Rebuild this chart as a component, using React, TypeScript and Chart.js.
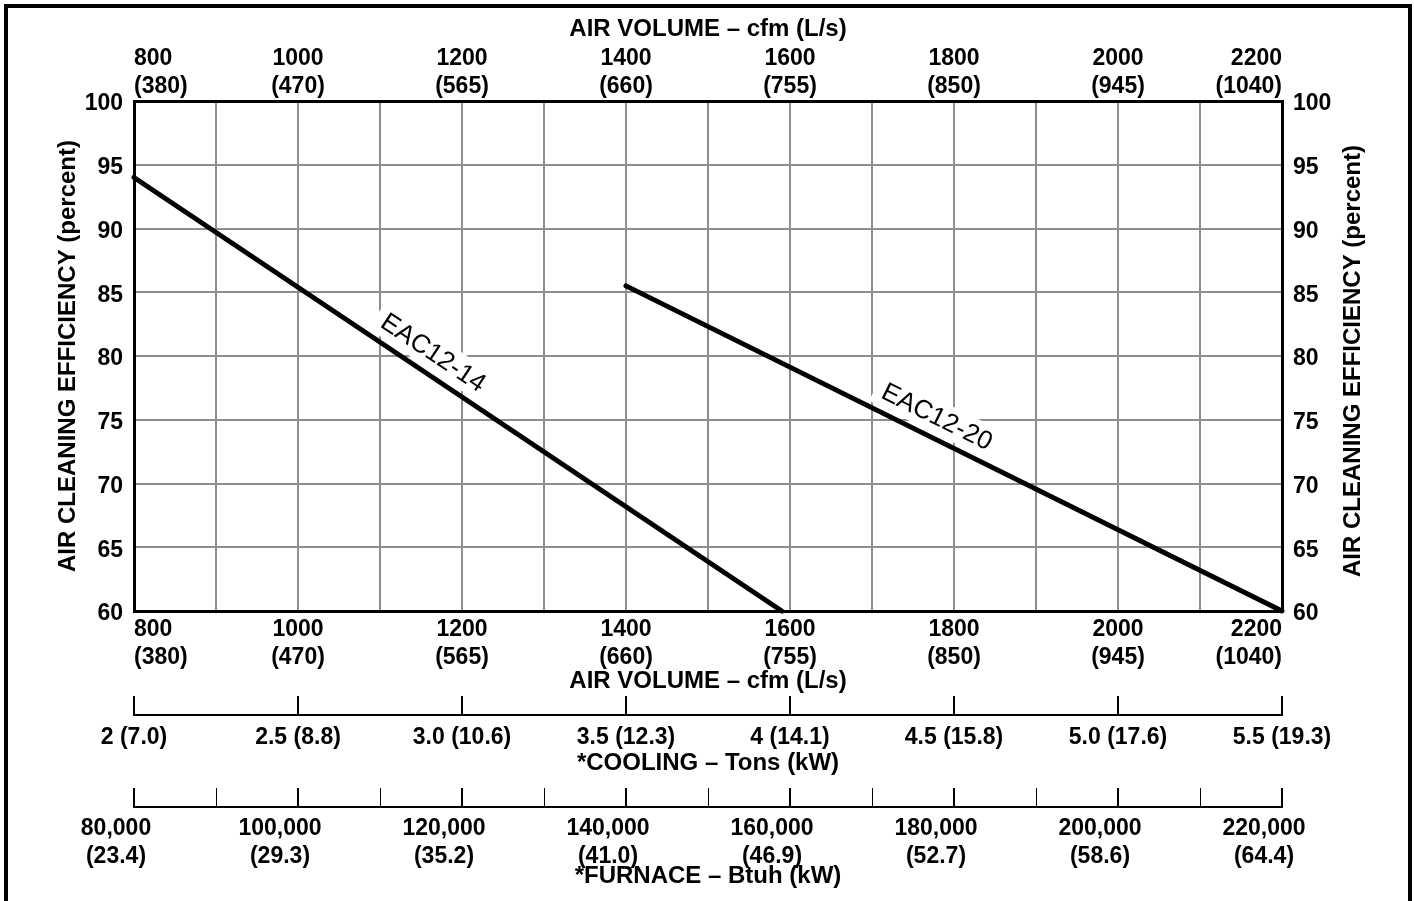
import { useEffect, useRef } from 'react';
import { Chart, registerables } from 'chart.js';

Chart.register(...registerables);

// ---- data ----
const airVolumeCfm = [800, 1000, 1200, 1400, 1600, 1800, 2000, 2200];
const airVolumeLs = ['(380)', '(470)', '(565)', '(660)', '(755)', '(850)', '(945)', '(1040)'];
const airVolumeRange = [800, 2200];
const airVolumeGridStep = 100;
const efficiencyRange = [60, 100];
const efficiencyStep = 5;
const coolingTons = ['2', '2.5', '3.0', '3.5', '4', '4.5', '5.0', '5.5'];
const coolingKw = ['(7.0)', '(8.8)', '(10.6)', '(12.3)', '(14.1)', '(15.8)', '(17.6)', '(19.3)'];
const coolingRange = [2, 5.5];
const coolingStep = 0.5;
const furnaceBtuh = ['80,000', '100,000', '120,000', '140,000', '160,000', '180,000', '200,000', '220,000'];
const furnaceKw = ['(23.4)', '(29.3)', '(35.2)', '(41.0)', '(46.9)', '(52.7)', '(58.6)', '(64.4)'];
const furnaceRange = [80000, 220000];
const furnaceStep = 10000;

const seriesNames = ['EAC12-14', 'EAC12-20'];
const eac1214Cfm = [800, 1590];
const eac1214Eff = [94, 60];
const eac1220Cfm = [1400, 2200];
const eac1220Eff = [85.5, 60];
const seriesLabelCfm = [1151, 1768];

const titleAirVolume = 'AIR VOLUME – cfm (L/s)';
const titleEfficiency = 'AIR CLEANING EFFICIENCY (percent)';
const titleCooling = '*COOLING – Tons (kW)';
const titleFurnace = '*FURNACE – Btuh (kW)';

// ---- styles ----
const FONT = '"Liberation Sans", Arial, Helvetica, sans-serif';
const TICK_FONT = { family: FONT, size: 23, weight: 'bold', lineHeight: 28 / 23 };
const TITLE_FONT = { family: FONT, size: 24, weight: 'bold', lineHeight: 1.2 };
const GRID = '#8e8e8e';
const AUX_TICK = 19;

const cfmLabel = (v: number) => {
  const i = airVolumeCfm.indexOf(Math.round(v));
  return i < 0 ? '' : [String(airVolumeCfm[i]), airVolumeLs[i]];
};
const coolingLabel = (v: number) => {
  const i = Math.round((v - coolingRange[0]) / coolingStep);
  return coolingTons[i] !== undefined ? `${coolingTons[i]} ${coolingKw[i]}` : '';
};
const furnaceLabel = (v: number) => {
  const k = Math.round((v - furnaceRange[0]) / furnaceStep);
  if (k % 2 !== 0) return '';
  const i = k / 2;
  return furnaceBtuh[i] !== undefined ? [furnaceBtuh[i], furnaceKw[i]] : '';
};

const drawCurveLabel = (chart: any, xsArr: number[], ysArr: number[], name: string, cfm: number) => {
  const ctx = chart.ctx;
  const xs = chart.scales.x;
  const ys = chart.scales.y;
  const x0 = xs.getPixelForValue(xsArr[0]);
  const y0 = ys.getPixelForValue(ysArr[0]);
  const x1 = xs.getPixelForValue(xsArr[1]);
  const y1 = ys.getPixelForValue(ysArr[1]);
  const a = Math.atan2(y1 - y0, x1 - x0);
  const t = (cfm - xsArr[0]) / (xsArr[1] - xsArr[0]);
  const eff = ysArr[0] + t * (ysArr[1] - ysArr[0]);
  const px = xs.getPixelForValue(cfm);
  const py = ys.getPixelForValue(eff);
  const d = 21;
  const cx = px + d * Math.sin(a);
  const cy = py - d * Math.cos(a);
  ctx.save();
  ctx.translate(cx, cy);
  ctx.rotate(a);
  ctx.font = `26px ${FONT}`;
  const w = ctx.measureText(name).width;
  ctx.fillStyle = '#ffffff';
  ctx.fillRect(-w / 2 - 8, -16, w + 16, 32);
  ctx.fillStyle = '#000000';
  ctx.textAlign = 'center';
  ctx.textBaseline = 'middle';
  ctx.fillText(name, 0, 1);
  ctx.restore();
};

const extrasPlugin = {
  id: 'extras',
  beforeDatasetsDraw(chart: any) {
    const ctx = chart.ctx;
    for (const id of ['cooling', 'furnace']) {
      const s = chart.scales[id];
      const y = s.top + AUX_TICK;
      ctx.save();
      ctx.strokeStyle = '#000';
      ctx.lineWidth = 2;
      ctx.beginPath();
      ctx.moveTo(s.getPixelForValue(s.min) - 1, y);
      ctx.lineTo(s.getPixelForValue(s.max) + 1, y);
      ctx.stroke();
      ctx.restore();
    }
    const r = chart.scales.y2;
    ctx.save();
    ctx.translate(r.right - 61, (r.top + r.bottom) / 2 + 5);
    ctx.rotate(-Math.PI / 2);
    ctx.font = `bold 24px ${FONT}`;
    ctx.textAlign = 'center';
    ctx.textBaseline = 'middle';
    ctx.fillStyle = '#000';
    ctx.fillText(titleEfficiency, 0, 0);
    ctx.restore();

    drawCurveLabel(chart, eac1214Cfm, eac1214Eff, seriesNames[0], seriesLabelCfm[0]);
    drawCurveLabel(chart, eac1220Cfm, eac1220Eff, seriesNames[1], seriesLabelCfm[1]);
  },
};

const commonTicks = {
  autoSkip: false,
  maxRotation: 0,
  minRotation: 0,
  maxTicksLimit: 100,
  color: '#000',
  font: TICK_FONT,
};

export default function App() {
  const ref = useRef<HTMLCanvasElement | null>(null);

  useEffect(() => {
    if (!ref.current) return;
    const chart = new Chart(ref.current, {
      type: 'line',
      data: {
        datasets: [
          {
            label: seriesNames[0],
            data: eac1214Cfm.map((x, i) => ({ x, y: eac1214Eff[i] })),
            borderColor: '#000',
            borderWidth: 5,
            borderCapStyle: 'round',
            pointRadius: 0,
            xAxisID: 'x',
            yAxisID: 'y',
            clip: false,
          },
          {
            label: seriesNames[1],
            data: eac1220Cfm.map((x, i) => ({ x, y: eac1220Eff[i] })),
            borderColor: '#000',
            borderWidth: 5,
            borderCapStyle: 'round',
            pointRadius: 0,
            xAxisID: 'x',
            yAxisID: 'y',
            clip: false,
          },
        ],
      },
      options: {
        animation: false,
        responsive: false,
        devicePixelRatio: 1,
        layout: { padding: 0 },
        plugins: { legend: { display: false }, tooltip: { enabled: false }, title: { display: false } },
        scales: {
          x: {
            type: 'linear',
            position: 'bottom',
            weight: 0,
            min: airVolumeRange[0],
            max: airVolumeRange[1],
            afterFit: (s: any) => { s.height = 85; },
            grid: { color: GRID, lineWidth: 2, drawTicks: false },
            border: { color: '#000', width: 3 },
            ticks: { ...commonTicks, stepSize: airVolumeGridStep, padding: 5, align: 'inner', callback: cfmLabel },
            title: { display: true, text: titleAirVolume, color: '#000', font: TITLE_FONT, padding: { top: 0, bottom: 0 } },
          },
          x2: {
            type: 'linear',
            position: 'top',
            min: airVolumeRange[0],
            max: airVolumeRange[1],
            afterFit: (s: any) => { s.height = 101; },
            grid: { display: false, drawTicks: false },
            border: { color: '#000', width: 3 },
            ticks: { ...commonTicks, stepSize: airVolumeGridStep, padding: 0, align: 'inner', callback: cfmLabel },
            title: { display: true, text: titleAirVolume, color: '#000', font: TITLE_FONT, padding: { top: 15, bottom: 0 } },
          },
          y: {
            type: 'linear',
            position: 'left',
            min: efficiencyRange[0],
            max: efficiencyRange[1],
            afterFit: (s: any) => { s.width = 134; },
            grid: { color: GRID, lineWidth: 2, drawTicks: false },
            border: { color: '#000', width: 3 },
            ticks: { ...commonTicks, stepSize: efficiencyStep, padding: 11, labelOffset: 3 },
            title: { display: true, text: titleEfficiency, color: '#000', font: TITLE_FONT, padding: { top: 54, bottom: 0 } },
          },
          y2: {
            type: 'linear',
            position: 'right',
            min: efficiencyRange[0],
            max: efficiencyRange[1],
            afterFit: (s: any) => { s.width = 132; },
            grid: { display: false, drawTicks: false },
            border: { color: '#000', width: 3 },
            ticks: { ...commonTicks, stepSize: efficiencyStep, padding: 11, labelOffset: 3 },
          },
          cooling: {
            type: 'linear',
            position: 'bottom',
            weight: 1,
            min: coolingRange[0],
            max: coolingRange[1],
            afterFit: (s: any) => { s.height = 92; },
            grid: { display: true, drawOnChartArea: false, drawTicks: true, tickLength: AUX_TICK, color: '#000', lineWidth: 2 },
            border: { display: false },
            ticks: { ...commonTicks, stepSize: coolingStep, padding: 9, callback: coolingLabel },
            title: { display: true, text: titleCooling, color: '#000', font: TITLE_FONT, padding: { top: 0, bottom: 10 } },
          },
          furnace: {
            type: 'linear',
            position: 'bottom',
            weight: 2,
            min: furnaceRange[0],
            max: furnaceRange[1],
            afterFit: (s: any) => { s.height = 113; },
            grid: {
              display: true,
              drawOnChartArea: false,
              drawTicks: true,
              tickLength: AUX_TICK,
              color: '#000',
              lineWidth: (c: any) => (c.tick && Math.round(c.tick.value) % 20000 === 0 ? 2 : 1),
            },
            border: { display: false },
            ticks: { ...commonTicks, stepSize: furnaceStep, padding: 8, labelOffset: -18, callback: furnaceLabel },
            title: { display: true, text: titleFurnace, color: '#000', font: TITLE_FONT, padding: { top: 0, bottom: 10 } },
          },
        },
      },
      plugins: [extrasPlugin],
    } as any);
    return () => chart.destroy();
  }, []);

  return (
    <div style={{ position: 'fixed', left: 0, top: 0, width: 1414, height: 901, overflow: 'hidden', background: '#fff' }}>
      <div
        style={{
          position: 'absolute',
          left: 4,
          top: 4,
          width: 1408,
          height: 1000,
          border: '4px solid #000',
          boxSizing: 'border-box',
        }}
      />
      <canvas ref={ref} width={1414} height={901} style={{ position: 'absolute', left: 0, top: 0, width: 1414, height: 901 }} />
    </div>
  );
}
